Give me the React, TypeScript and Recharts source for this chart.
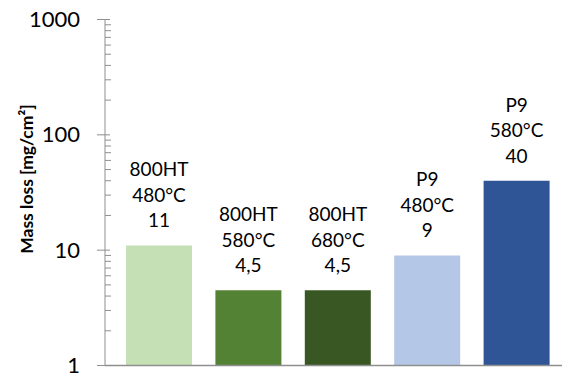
import React from "react";
import { BarChart, Bar, XAxis, YAxis, Cell, LabelList, Label } from "recharts";

// one bar per alloy / test temperature
const ALLOYS = ["800HT", "800HT", "800HT", "P9", "P9"];
const TEMPERATURES = ["480°C", "580°C", "680°C", "480°C", "580°C"];
const MASS_LOSS = [11, 4.5, 4.5, 9, 40];
const BAR_COLORS = ["#c5e0b4", "#548235", "#385723", "#b4c7e7", "#2f5597"];

// log axis: labelled decades plus unlabelled minor ticks
const MAJOR_TICKS = [1, 10, 100, 1000];
const MINOR_TICKS = [
  2, 3, 4, 5, 6, 7, 8, 9,
  20, 30, 40, 50, 60, 70, 80, 90,
  200, 300, 400, 500, 600, 700, 800, 900,
];

const FONT = "Lato, 'Liberation Sans', sans-serif";
const AXIS_GRAY = "#8f8f8f";

const data = ALLOYS.map((alloy, i) => ({
  key: `${alloy}-${TEMPERATURES[i]}`,
  alloy,
  temp: TEMPERATURES[i],
  value: MASS_LOSS[i],
}));

const allTicks = [...MAJOR_TICKS, ...MINOR_TICKS].sort((a, b) => a - b);

function LogTick(props: any) {
  const { x, y, payload } = props;
  const major = MAJOR_TICKS.includes(payload.value);
  if (!major) {
    return <line x1={x} x2={x + 6} y1={y} y2={y} stroke={AXIS_GRAY} strokeWidth={1} />;
  }
  return (
    <g>
      <line x1={x - 8} x2={x + 5} y1={y} y2={y} stroke={AXIS_GRAY} strokeWidth={1} />
      <text x={x - 25} y={y + 7.5} textAnchor="end" fontSize={22} fontFamily={FONT} fill="#000">
        {payload.value}
      </text>
    </g>
  );
}

function BarLabel(props: any) {
  const { x, y, width, index } = props;
  const d = data[index];
  const cx = x + width / 2;
  const lines = [d.alloy, d.temp, String(d.value).replace(".", ",")];
  return (
    <text textAnchor="middle" fontSize={19} fontFamily={FONT} fill="#000">
      {lines.map((t, i) => (
        <tspan key={i} x={cx} y={y - 18 - (lines.length - 1 - i) * 25.5}>
          {t}
        </tspan>
      ))}
    </text>
  );
}

function AxisTitle() {
  return (
    <text
      x={33}
      y={179}
      transform="rotate(-90 33 179)"
      textAnchor="middle"
      fontSize={17.5}
      fontWeight={700}
      fontFamily={FONT}
      fill="#000"
    >
      Mass loss [mg/cm²]
    </text>
  );
}

export default function App() {
  return (
    <div style={{ position: "absolute", left: 0, top: 0, width: 563, height: 376, background: "#fff" }}>
      <BarChart
        width={563}
        height={376}
        data={data}
        margin={{ top: 19.5, right: 1, bottom: 0, left: 0 }}
        barSize={66}
      >
        <XAxis
          dataKey="key"
          tick={false}
          tickLine={false}
          height={10.5}
          padding={{ left: 9, right: 1 }}
          axisLine={{ stroke: AXIS_GRAY, strokeWidth: 1.5 }}
        />
        <YAxis
          scale="log"
          domain={[1, 1000]}
          ticks={allTicks}
          interval={0}
          allowDataOverflow
          width={105}
          tickSize={0}
          tickMargin={0}
          tickLine={false}
          tick={<LogTick />}
          axisLine={{ stroke: AXIS_GRAY, strokeWidth: 1 }}
        >
          <Label content={<AxisTitle />} />
        </YAxis>
        <Bar dataKey="value" isAnimationActive={false}>
          {data.map((d, i) => (
            <Cell key={d.key} fill={BAR_COLORS[i]} />
          ))}
          <LabelList dataKey="value" content={<BarLabel />} />
        </Bar>
      </BarChart>
    </div>
  );
}
